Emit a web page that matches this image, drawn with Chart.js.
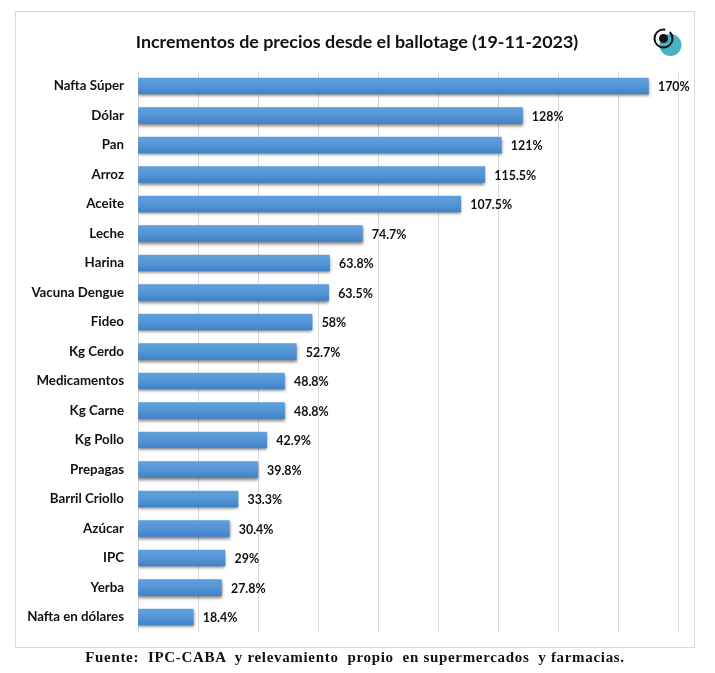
<!DOCTYPE html>
<html lang="es">
<head>
<meta charset="utf-8">
<script src="https://cdn.jsdelivr.net/npm/chart.js@4"></script>
<style>
  html, body { margin: 0; padding: 0; background: #fff; }
  #page { position: relative; width: 715px; height: 673px; overflow: hidden; }
  #marco { position: absolute; left: 15px; top: 11px; width: 680px; height: 637px; border: 1px solid #d9d9d9; box-sizing: border-box; }
  #grafico { position: absolute; left: 0; top: 0; }
  #logo { position: absolute; left: 650px; top: 26px; }
  #fuente { position: absolute; left: 0; top: 649px; width: 710px; text-align: center; white-space: pre;
            font: bold 15px "Liberation Serif", serif; letter-spacing: 0.68px; color: #111; }
</style>
</head>
<body>
<div id="page">
  <div id="marco"></div>
  <canvas id="grafico" width="715" height="673"></canvas>
  <svg id="logo" width="34" height="34" viewBox="0 0 34 34">
    <circle cx="20.5" cy="19" r="11" fill="#45b3c4"/>
    <circle cx="13.5" cy="12.5" r="9" fill="none" stroke="#111" stroke-width="2" stroke-dasharray="44 5"/>
    <circle cx="13.5" cy="12.5" r="4.5" fill="#111"/>
  </svg>
  <div id="fuente">Fuente:  IPC-CABA  y relevamiento  propio  en supermercados  y farmacias.</div>
</div>
<script>
const categorias = ['Nafta Súper', 'Dólar', 'Pan', 'Arroz', 'Aceite', 'Leche', 'Harina', 'Vacuna Dengue', 'Fideo', 'Kg Cerdo',
    'Medicamentos', 'Kg Carne', 'Kg Pollo', 'Prepagas', 'Barril Criollo', 'Azúcar', 'IPC', 'Yerba', 'Nafta en dólares'];
const incrementos = [170, 128, 121, 115.5, 107.5, 74.7, 63.8, 63.5, 58, 52.7, 48.8, 48.8, 42.9, 39.8, 33.3, 30.4, 29, 27.8, 18.4];
const titulo = 'Incrementos de precios desde el ballotage (19-11-2023)';
const fuenteEtiquetas = 'bold 12.4px Lato, sans-serif';

// Sombra debajo de las barras
const sombraBarras = {
    id: 'sombraBarras',
    beforeDatasetDraw(chart) {
        const ctx = chart.ctx;
        ctx.save();
        ctx.shadowColor = 'rgba(0, 0, 0, 0.5)';
        ctx.shadowBlur = 3;
        ctx.shadowOffsetX = 0;
        ctx.shadowOffsetY = 2;
    },
    afterDatasetDraw(chart) {
        chart.ctx.restore();
    }
};

// El titulo se centra en todo el ancho, no solo hasta el padding derecho
const tituloCentrado = {
    id: 'tituloCentrado',
    afterLayout(chart) {
        chart.titleBlock.right = chart.width - 1;
    }
};

// Etiquetas de valor a la derecha de cada barra
const etiquetasValor = {
    id: 'etiquetasValor',
    afterDatasetsDraw(chart) {
        const ctx = chart.ctx;
        ctx.save();
        ctx.font = fuenteEtiquetas;
        ctx.fillStyle = '#111';
        ctx.textAlign = 'left';
        ctx.textBaseline = 'middle';
        chart.getDatasetMeta(0).data.forEach((barra, i) => {
            ctx.fillText(incrementos[i] + '%', barra.x + 9.5, barra.y + 1);
        });
        ctx.restore();
    }
};

// Degradado vertical de cada barra
function colorBarra(context) {
    const chart = context.chart;
    if (!chart.chartArea) return '#5b9bd5';
    const y = chart.scales.y.getPixelForValue(context.dataIndex);
    const g = chart.ctx.createLinearGradient(0, y - 8, 0, y + 8);
    g.addColorStop(0, '#5fa0dc');
    g.addColorStop(0.5, '#5496d6');
    g.addColorStop(1, '#3f82c6');
    return g;
}

new Chart(document.getElementById('grafico'), {
    type: 'bar',
    data: {
        labels: categorias,
        datasets: [{
            data: incrementos,
            backgroundColor: colorBarra,
            borderWidth: 0,
            barThickness: 16
        }]
    },
    options: {
        indexAxis: 'y',
        responsive: false,
        animation: false,
        devicePixelRatio: 1,
        layout: { padding: { right: 36.5, bottom: 41.25 } },
        plugins: {
            legend: { display: false },
            tooltip: { enabled: false },
            title: {
                display: true,
                text: titulo,
                color: '#111',
                font: { family: 'Lato, sans-serif', size: 17.9, weight: 'bold', lineHeight: 1.2 },
                padding: { top: 31.2, bottom: 18.6 }
            }
        },
        scales: {
            x: {
                min: 0,
                max: 180,
                ticks: { stepSize: 20, display: false },
                border: { display: false },
                grid: { color: '#d9d9d9', lineWidth: 1, drawTicks: false }
            },
            y: {
                afterFit(scale) { scale.width = 138; },
                grid: { display: false, drawTicks: false },
                border: { display: true, color: '#d9d9d9', width: 1 },
                ticks: {
                    padding: 14,
                    color: '#111',
                    font: { family: 'Lato, sans-serif', size: 13.3, weight: 'bold' }
                }
            }
        }
    },
    plugins: [sombraBarras, tituloCentrado, etiquetasValor]
});
</script>
</body>
</html>
